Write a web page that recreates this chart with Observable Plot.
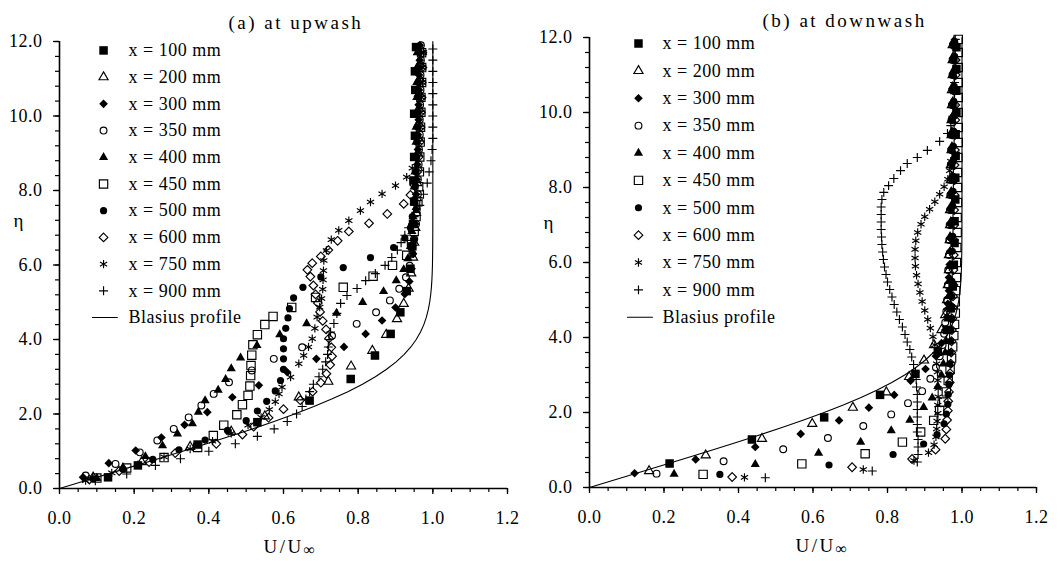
<!DOCTYPE html>
<html><head><meta charset="utf-8">
<script src="https://cdn.jsdelivr.net/npm/d3@7"></script>
<script src="https://cdn.jsdelivr.net/npm/@observablehq/plot@0.6"></script>
<style>
html,body{margin:0;padding:0;background:#fff;}
#chart{display:flex;width:1060px;height:561px;overflow:hidden;}
#chart svg{display:block;}
</style></head><body><div id="chart"></div>
<script>
// ---------- axes / labels ----------
const xTickValues = [0, 0.2, 0.4, 0.6, 0.8, 1.0, 1.2];
const yTickValues = [0, 2, 4, 6, 8, 10, 12];
const xMinorTicks = d3.range(0, 1.2001, 0.05);
const yMinorTicks = d3.range(0, 12.001, 0.4);
const panelTitles = ["(a) at upwash", "(b) at downwash"];
const xLabel = "U/U";
const xLabelSub = "\u221E";
const yLabel = "\u03B7";
const seriesNames = ["x = 100 mm","x = 200 mm","x = 300 mm","x = 350 mm","x = 400 mm","x = 450 mm","x = 500 mm","x = 600 mm","x = 750 mm","x = 900 mm"];
const blasiusName = "Blasius profile";

// ---------- Blasius profile (eta, U/Uinf) ----------
const blasiusEta = [0,0.2,0.4,0.6,0.8,1.0,1.2,1.4,1.6,1.8,2.0,2.2,2.4,2.6,2.8,3.0,3.2,3.4,3.6,3.8,4.0,4.2,4.4,4.6,4.8,5.0,5.2,5.4,5.6,5.8,6.0,6.4,6.8,7.2,8.0,12.0];
const blasiusU = [0,0.06641,0.13277,0.19894,0.26471,0.32979,0.39378,0.45627,0.51676,0.57477,0.62977,0.68132,0.72899,0.77246,0.81152,0.84605,0.87609,0.90177,0.92333,0.94112,0.95552,0.96696,0.97587,0.98269,0.98779,0.99155,0.99425,0.99616,0.99748,0.99838,0.99898,0.99961,0.99987,0.99996,1.0,1.0];

// ---------- (a) upwash : [U/Uinf, eta] ----------
const up100 = [[0.13,0.30],[0.21,0.62],[0.37,1.18],[0.53,1.78],[0.67,2.36],[0.78,2.94],[0.845,3.57],[0.887,4.15],[0.913,4.73],[0.93,5.30],[0.94,5.90],[0.945,6.50],[0.947,7.10],[0.95,7.70],[0.948,8.27],[0.95,8.90],[0.952,9.47],[0.95,10.06],[0.953,10.70],[0.952,11.20],[0.955,11.85]];
const up200 = [[0.09,0.30],[0.22,0.71],[0.35,1.12],[0.46,1.53],[0.55,1.94],[0.641,2.45],[0.72,2.87],[0.781,3.28],[0.838,3.70],[0.875,4.13],[0.904,4.55],[0.922,4.96],[0.935,5.37],[0.942,5.78],[0.947,6.20],[0.95,6.60],[0.953,7.00],[0.955,7.40],[0.957,7.80],[0.958,8.20],[0.96,8.60],[0.96,9.00],[0.962,9.40],[0.962,9.80],[0.963,10.20],[0.963,10.60],[0.965,11.00],[0.965,11.40],[0.966,11.80]];
const up300 = [[0.063,0.30],[0.132,0.68],[0.204,1.02],[0.273,1.37],[0.335,1.71],[0.396,2.05],[0.463,2.45],[0.534,2.77],[0.61,3.12],[0.688,3.48],[0.762,3.80],[0.82,4.15],[0.864,4.51],[0.90,4.86],[0.925,5.22],[0.937,5.56],[0.943,5.90],[0.947,6.30],[0.95,6.70],[0.953,7.10],[0.955,7.50],[0.955,7.90],[0.957,8.30],[0.958,8.70],[0.96,9.10],[0.96,9.50],[0.962,9.90],[0.962,10.30],[0.963,10.70],[0.963,11.10],[0.965,11.50],[0.965,11.90]];
const up350 = [[0.07,0.35],[0.15,0.66],[0.215,0.97],[0.262,1.29],[0.306,1.60],[0.346,1.91],[0.38,2.23],[0.413,2.54],[0.454,2.85],[0.515,3.17],[0.574,3.48],[0.65,3.79],[0.73,4.10],[0.796,4.42],[0.848,4.73],[0.885,5.05],[0.91,5.36],[0.928,5.67],[0.938,5.98],[0.945,6.30],[0.95,6.70],[0.955,7.10],[0.957,7.50],[0.96,7.90],[0.96,8.30],[0.962,8.70],[0.963,9.10],[0.965,9.50],[0.965,9.90],[0.966,10.30],[0.967,10.70],[0.967,11.10],[0.968,11.50],[0.968,11.90]];
const up400 = [[0.10,0.28],[0.17,0.57],[0.23,0.86],[0.276,1.15],[0.316,1.47],[0.356,1.74],[0.372,2.05],[0.39,2.36],[0.425,2.64],[0.445,2.93],[0.46,3.22],[0.485,3.51],[0.529,3.84],[0.59,4.13],[0.662,4.43],[0.742,4.71],[0.812,5.00],[0.868,5.29],[0.902,5.58],[0.922,5.88],[0.933,6.17],[0.94,6.50],[0.944,6.90],[0.947,7.30],[0.95,7.70],[0.95,8.10],[0.952,8.50],[0.953,8.90],[0.955,9.30],[0.955,9.70],[0.956,10.10],[0.957,10.50],[0.957,10.90],[0.958,11.30],[0.958,11.70]];
const up450 = [[0.10,0.28],[0.18,0.55],[0.28,0.83],[0.37,1.10],[0.412,1.42],[0.44,1.70],[0.475,1.98],[0.49,2.25],[0.505,2.50],[0.51,2.75],[0.512,3.03],[0.513,3.30],[0.515,3.58],[0.518,3.86],[0.53,4.13],[0.55,4.40],[0.572,4.62],[0.622,4.86],[0.686,5.13],[0.76,5.40],[0.84,5.70],[0.892,5.99],[0.93,6.26],[0.943,6.55],[0.95,6.90],[0.955,7.30],[0.96,7.70],[0.962,8.10],[0.964,8.50],[0.965,8.90],[0.966,9.30],[0.967,9.70],[0.968,10.10],[0.968,10.50],[0.97,10.90],[0.97,11.30],[0.97,11.70]];
const up500 = [[0.09,0.26],[0.17,0.52],[0.25,0.78],[0.32,1.04],[0.39,1.30],[0.45,1.56],[0.50,1.82],[0.53,2.08],[0.555,2.34],[0.578,2.62],[0.592,2.90],[0.60,3.20],[0.60,3.48],[0.60,3.75],[0.60,4.02],[0.606,4.30],[0.612,4.58],[0.616,4.83],[0.627,5.12],[0.652,5.40],[0.70,5.68],[0.76,5.93],[0.833,6.20],[0.895,6.47],[0.925,6.72],[0.94,7.00],[0.945,7.30],[0.95,7.70],[0.953,8.10],[0.955,8.50],[0.957,8.90],[0.958,9.30],[0.96,9.70],[0.96,10.10],[0.962,10.50],[0.962,10.90],[0.963,11.30],[0.964,11.70]];
const up600 = [[0.08,0.24],[0.16,0.47],[0.24,0.71],[0.31,0.95],[0.42,1.20],[0.49,1.45],[0.52,1.66],[0.56,1.90],[0.60,2.13],[0.645,2.37],[0.678,2.60],[0.70,2.84],[0.715,3.08],[0.725,3.32],[0.73,3.55],[0.728,3.79],[0.722,4.03],[0.714,4.27],[0.705,4.50],[0.698,4.74],[0.692,4.98],[0.686,5.21],[0.68,5.45],[0.672,5.69],[0.664,5.87],[0.677,6.05],[0.70,6.23],[0.72,6.40],[0.745,6.65],[0.775,6.90],[0.829,7.12],[0.878,7.37],[0.922,7.64],[0.94,7.88],[0.95,8.15],[0.958,8.50],[0.962,8.90],[0.965,9.30],[0.967,9.70],[0.968,10.10],[0.97,10.50],[0.97,10.90],[0.972,11.30],[0.972,11.70]];
const up750 = [[0.07,0.21],[0.14,0.42],[0.21,0.64],[0.28,0.85],[0.35,1.06],[0.41,1.27],[0.46,1.48],[0.505,1.70],[0.54,1.91],[0.562,2.12],[0.578,2.33],[0.588,2.54],[0.596,2.72],[0.619,2.99],[0.641,3.35],[0.654,3.57],[0.667,3.80],[0.677,4.02],[0.684,4.30],[0.69,4.60],[0.697,4.87],[0.702,5.10],[0.705,5.35],[0.706,5.60],[0.707,5.85],[0.708,6.12],[0.715,6.39],[0.728,6.68],[0.748,6.93],[0.775,7.19],[0.806,7.46],[0.833,7.69],[0.864,7.91],[0.90,8.13],[0.93,8.36],[0.945,8.60],[0.955,8.90],[0.962,9.30],[0.966,9.70],[0.968,10.10],[0.97,10.50],[0.972,10.90],[0.973,11.30],[0.975,11.70]];
const up900 = [[0.096,0.21],[0.18,0.39],[0.257,0.62],[0.324,0.80],[0.40,1.00],[0.471,1.20],[0.53,1.40],[0.575,1.60],[0.61,1.80],[0.635,2.00],[0.65,2.20],[0.66,2.40],[0.67,2.60],[0.68,2.80],[0.695,3.00],[0.705,3.20],[0.713,3.40],[0.718,3.60],[0.72,3.80],[0.722,4.00],[0.726,4.20],[0.735,4.43],[0.743,4.70],[0.753,4.97],[0.77,5.18],[0.797,5.37],[0.82,5.58],[0.846,5.77],[0.872,5.99],[0.89,6.20],[0.905,6.40],[0.915,6.60],[0.925,6.80],[0.935,7.00],[0.95,7.30],[0.965,7.60],[0.975,7.90],[0.985,8.20],[0.99,8.50],[0.995,8.80],[0.998,9.10],[1.0,9.40],[1.0,9.70],[1.0,10.00],[1.0,10.30],[1.0,10.60],[1.0,10.90],[1.0,11.20],[1.0,11.50],[1.0,11.80]];

// ---------- (b) downwash : [U/Uinf, eta] ----------
const dn100 = [[0.215,0.64],[0.436,1.28],[0.63,1.87],[0.78,2.47],[0.875,3.03],[0.935,3.62],[0.96,4.20],[0.97,4.78],[0.975,5.36],[0.978,5.94],[0.98,6.52],[0.98,7.10],[0.982,7.68],[0.982,8.26],[0.983,8.84],[0.983,9.42],[0.985,10.00],[0.985,10.58],[0.985,11.16],[0.985,11.74]];
const dn200 = [[0.16,0.44],[0.312,0.86],[0.463,1.30],[0.598,1.70],[0.707,2.13],[0.797,2.54],[0.858,2.95],[0.898,3.39],[0.925,3.80],[0.945,4.20],[0.955,4.60],[0.96,5.00],[0.962,5.40],[0.965,5.80],[0.965,6.20],[0.967,6.60],[0.968,7.00],[0.968,7.40],[0.97,7.80],[0.97,8.20],[0.97,8.60],[0.972,9.00],[0.972,9.40],[0.972,9.80],[0.973,10.20],[0.973,10.60],[0.975,11.00],[0.975,11.40],[0.975,11.80]];
const dn300 = [[0.121,0.38],[0.285,0.75],[0.445,1.08],[0.567,1.43],[0.67,1.79],[0.75,2.13],[0.818,2.47],[0.862,2.85],[0.902,3.16],[0.93,3.50],[0.945,3.85],[0.955,4.20],[0.96,4.55],[0.962,4.90],[0.965,5.25],[0.965,5.60],[0.967,5.95],[0.968,6.30],[0.968,6.65],[0.97,7.00],[0.97,7.40],[0.97,7.80],[0.972,8.20],[0.972,8.60],[0.972,9.00],[0.973,9.40],[0.973,9.80],[0.975,10.20],[0.975,10.60],[0.975,11.00],[0.977,11.40],[0.977,11.80]];
const dn350 = [[0.18,0.37],[0.36,0.70],[0.52,1.02],[0.64,1.32],[0.735,1.64],[0.81,1.95],[0.855,2.25],[0.893,2.57],[0.915,2.90],[0.93,3.20],[0.94,3.50],[0.948,3.80],[0.952,4.10],[0.955,4.40],[0.958,4.70],[0.96,5.00],[0.962,5.40],[0.963,5.80],[0.965,6.20],[0.966,6.60],[0.967,7.00],[0.968,7.40],[0.969,7.80],[0.97,8.20],[0.97,8.60],[0.971,9.00],[0.972,9.40],[0.972,9.80],[0.973,10.20],[0.974,10.60],[0.975,11.00],[0.975,11.40],[0.976,11.80]];
const dn400 = [[0.227,0.36],[0.445,0.62],[0.615,0.92],[0.728,1.21],[0.81,1.52],[0.86,1.80],[0.897,2.14],[0.92,2.39],[0.935,2.70],[0.945,3.00],[0.95,3.30],[0.955,3.60],[0.958,3.90],[0.96,4.20],[0.962,4.50],[0.963,4.80],[0.965,5.10],[0.965,5.50],[0.967,5.90],[0.968,6.30],[0.968,6.70],[0.97,7.10],[0.97,7.50],[0.971,7.90],[0.972,8.30],[0.972,8.70],[0.973,9.10],[0.973,9.50],[0.974,9.90],[0.975,10.30],[0.975,10.70],[0.976,11.10],[0.976,11.50],[0.977,11.90]];
const dn450 = [[0.305,0.35],[0.57,0.63],[0.74,0.90],[0.84,1.21],[0.889,1.48],[0.924,1.79],[0.94,2.05],[0.951,2.28],[0.958,2.55],[0.963,2.85],[0.968,3.15],[0.972,3.45],[0.975,3.75],[0.978,4.05],[0.98,4.35],[0.982,4.65],[0.982,4.95],[0.983,5.25],[0.985,5.60],[0.985,6.00],[0.986,6.40],[0.987,6.80],[0.987,7.20],[0.988,7.60],[0.988,8.00],[0.988,8.40],[0.989,8.80],[0.99,9.20],[0.99,9.60],[0.99,10.00],[0.99,10.40],[0.99,10.80],[0.99,11.20],[0.99,11.60],[0.99,11.95]];
const dn500 = [[0.35,0.35],[0.643,0.60],[0.815,0.88],[0.897,1.16],[0.933,1.41],[0.952,1.70],[0.958,1.96],[0.962,2.22],[0.963,2.48],[0.965,2.75],[0.966,3.00],[0.967,3.30],[0.968,3.60],[0.969,3.90],[0.97,4.20],[0.971,4.50],[0.972,4.80],[0.972,5.10],[0.973,5.50],[0.973,5.90],[0.974,6.30],[0.975,6.70],[0.975,7.10],[0.975,7.50],[0.976,7.90],[0.976,8.30],[0.977,8.70],[0.977,9.10],[0.978,9.50],[0.978,9.90],[0.978,10.30],[0.979,10.70],[0.979,11.10],[0.98,11.50],[0.98,11.90]];
const dn600 = [[0.383,0.28],[0.705,0.54],[0.866,0.76],[0.929,1.01],[0.955,1.30],[0.958,1.55],[0.96,1.80],[0.962,2.05],[0.963,2.30],[0.965,2.55],[0.967,2.80],[0.968,3.05],[0.97,3.30],[0.971,3.60],[0.972,3.90],[0.973,4.20],[0.974,4.50],[0.975,4.80],[0.976,5.10],[0.977,5.40],[0.977,5.80],[0.978,6.20],[0.978,6.60],[0.979,7.00],[0.979,7.40],[0.98,7.80],[0.98,8.20],[0.98,8.60],[0.981,9.00],[0.981,9.40],[0.982,9.80],[0.982,10.20],[0.982,10.60],[0.983,11.00],[0.983,11.40],[0.983,11.80]];
const dn750 = [[0.416,0.27],[0.735,0.48],[0.871,0.72],[0.91,0.93],[0.925,1.14],[0.93,1.35],[0.932,1.56],[0.933,1.77],[0.935,1.98],[0.935,2.20],[0.936,2.42],[0.936,2.64],[0.935,2.86],[0.934,3.08],[0.932,3.30],[0.93,3.55],[0.927,3.80],[0.922,4.02],[0.915,4.25],[0.908,4.48],[0.90,4.72],[0.893,4.96],[0.887,5.20],[0.882,5.43],[0.878,5.66],[0.875,5.90],[0.874,6.12],[0.874,6.35],[0.876,6.58],[0.881,6.80],[0.89,7.02],[0.90,7.22],[0.913,7.42],[0.927,7.62],[0.94,7.82],[0.952,8.02],[0.962,8.22],[0.967,8.45],[0.97,8.70],[0.972,9.00],[0.974,9.40],[0.975,9.80],[0.976,10.20],[0.977,10.60],[0.978,11.00],[0.978,11.40],[0.978,11.80]];
const dn900 = [[0.472,0.26],[0.759,0.44],[0.88,0.68],[0.882,0.88],[0.882,1.08],[0.882,1.28],[0.88,1.48],[0.88,1.68],[0.88,1.88],[0.88,2.08],[0.88,2.28],[0.88,2.48],[0.878,2.68],[0.877,2.88],[0.875,3.08],[0.87,3.28],[0.865,3.48],[0.86,3.68],[0.853,3.88],[0.847,4.08],[0.84,4.28],[0.832,4.48],[0.825,4.68],[0.818,4.88],[0.812,5.08],[0.806,5.28],[0.80,5.48],[0.796,5.68],[0.792,5.88],[0.789,6.08],[0.787,6.28],[0.785,6.48],[0.784,6.68],[0.783,6.88],[0.783,7.08],[0.783,7.28],[0.783,7.48],[0.785,7.68],[0.79,7.87],[0.803,8.05],[0.817,8.24],[0.835,8.45],[0.853,8.64],[0.88,8.80],[0.907,8.99],[0.94,9.23],[0.961,9.44],[0.97,9.65],[0.975,9.90],[0.978,10.20],[0.98,10.50],[0.98,10.80],[0.982,11.10],[0.982,11.40],[0.982,11.70],[0.982,11.95]];

const upwashSeries = [up100, up200, up300, up350, up400, up450, up500, up600, up750, up900];
const downwashSeries = [dn100, dn200, dn300, dn350, dn400, dn450, dn500, dn600, dn750, dn900];

// ---------- marker styles ----------
const seriesSymbols = ["square","triangle","diamond2","circle","triangle","square","circle","diamond2","asterisk","plus"];
const seriesFilled = [true,false,true,false,true,false,true,false,false,false];
const seriesR = [4.8,3.4,3.9,3.4,3.4,4.7,3.6,3.9,3.9,3.0];

const FONT = "'Liberation Serif','Times New Roman',serif";

function panel(cfg) {
  const marks = [];
  marks.push(Plot.axisX({ticks: xMinorTicks, tickSize: 4, tickFormat: () => "", label: null, strokeWidth: 1.2}));
  marks.push(Plot.axisX({ticks: xTickValues, tickSize: 6, tickPadding: 17, tickFormat: d3.format(".1f"), label: null, fontSize: 18, strokeWidth: 1.3}));
  marks.push(Plot.axisY({ticks: yMinorTicks, tickSize: 4, tickFormat: () => "", label: null, strokeWidth: 1.2}));
  marks.push(Plot.axisY({ticks: yTickValues, tickSize: 6, tickPadding: 11, tickFormat: d3.format(".1f"), label: null, fontSize: 18, strokeWidth: 1.3}));
  marks.push(Plot.ruleX([0], {stroke: "#000", strokeWidth: 1.6}));
  marks.push(Plot.ruleY([0], {stroke: "#000", strokeWidth: 1.6}));

  // Blasius
  const bl = blasiusEta.map((e, i) => ({u: blasiusU[i], eta: e}));
  marks.push(Plot.line(bl, {x: "u", y: "eta", stroke: "#000", strokeWidth: 1.1}));

  // data
  cfg.series.forEach((pts, i) => {
    const f = seriesFilled[i];
    marks.push(Plot.dot(pts, {x: d => d[0], y: d => d[1], symbol: seriesSymbols[i], r: seriesR[i],
      fill: f ? "#000" : "none", stroke: f ? "none" : "#000", strokeWidth: 1.15}));
  });

  // legend
  seriesNames.forEach((name, i) => {
    const f = seriesFilled[i];
    const ly = cfg.legTop - i * cfg.legStep;
    marks.push(Plot.dot([name], {x: () => cfg.legMarkU, y: () => ly, symbol: seriesSymbols[i], r: seriesR[i],
      fill: f ? "#000" : "none", stroke: f ? "none" : "#000", strokeWidth: 1.15}));
  });
  marks.push(Plot.text(seriesNames, {x: () => cfg.legTextU, y: (d, i) => cfg.legTop - i * cfg.legStep,
    text: d => d, textAnchor: "start", fontSize: 18}));
  const blY = cfg.legTop - seriesNames.length * cfg.legStep;
  marks.push(Plot.line([[cfg.legLineU0, blY], [cfg.legLineU1, blY]], {x: d => d[0], y: d => d[1], stroke: "#000", strokeWidth: 1.1}));
  marks.push(Plot.text([blasiusName], {x: () => cfg.legTextU, y: () => blY, text: d => d, textAnchor: "start", fontSize: 18}));

  // titles and axis labels
  marks.push(Plot.text([cfg.title], {frameAnchor: "top-left", lineAnchor: "middle", dx: cfg.titleDx, dy: cfg.titleDy, text: d => d, textAnchor: "start", fontSize: 19}));
  marks.push(Plot.text([xLabel], {frameAnchor: "bottom-left", lineAnchor: "middle", dx: cfg.xlabDx, dy: cfg.xlabDy, text: d => d, textAnchor: "start", fontSize: 19}));
  marks.push(Plot.text([xLabelSub], {frameAnchor: "bottom-left", lineAnchor: "middle", dx: cfg.xlabDx + 40, dy: cfg.xlabDy + 3, text: d => d, textAnchor: "start", fontSize: 16}));
  marks.push(Plot.text([yLabel], {frameAnchor: "top-left", lineAnchor: "middle", dx: -46, dy: cfg.etaDy, text: d => d, textAnchor: "start", fontSize: 19}));

  const svg = Plot.plot({
    width: 530, height: 561,
    marginLeft: 59, marginRight: cfg.mr, marginTop: cfg.mt, marginBottom: cfg.mb,
    style: {fontFamily: FONT, fontSize: "17px", color: "#000", background: "#fff", overflow: "visible", letterSpacing: "0.5px"},
    x: {domain: [0, 1.2], axis: null},
    y: {domain: [0, 12], axis: null},
    marks
  });
  // wider tracking for the panel title and the axis labels, as in the original
  svg.querySelectorAll("text").forEach(t => {
    const s = t.textContent;
    if (s === cfg.title || s === xLabel) t.setAttribute("letter-spacing", "2.5px");
  });
  return svg;
}

const left = panel({
  series: upwashSeries, title: panelTitles[0],
  mr: 23, mt: 41, mb: 73,
  legTop: 11.76, legStep: 0.717, legMarkU: 0.118, legTextU: 0.185, legLineU0: 0.088, legLineU1: 0.155,
  titleDx: 169, titleDy: -19, xlabDx: 204, xlabDy: 58, etaDy: 179
});
const right = panel({
  series: downwashSeries, title: panelTitles[1],
  mr: 24, mt: 37, mb: 74,
  legTop: 11.84, legStep: 0.73, legMarkU: 0.1315, legTextU: 0.196, legLineU0: 0.102, legLineU1: 0.169,
  titleDx: 173, titleDy: -17, xlabDx: 206, xlabDy: 58, etaDy: 185
});
document.getElementById("chart").append(left, right);
</script>
</body></html>
